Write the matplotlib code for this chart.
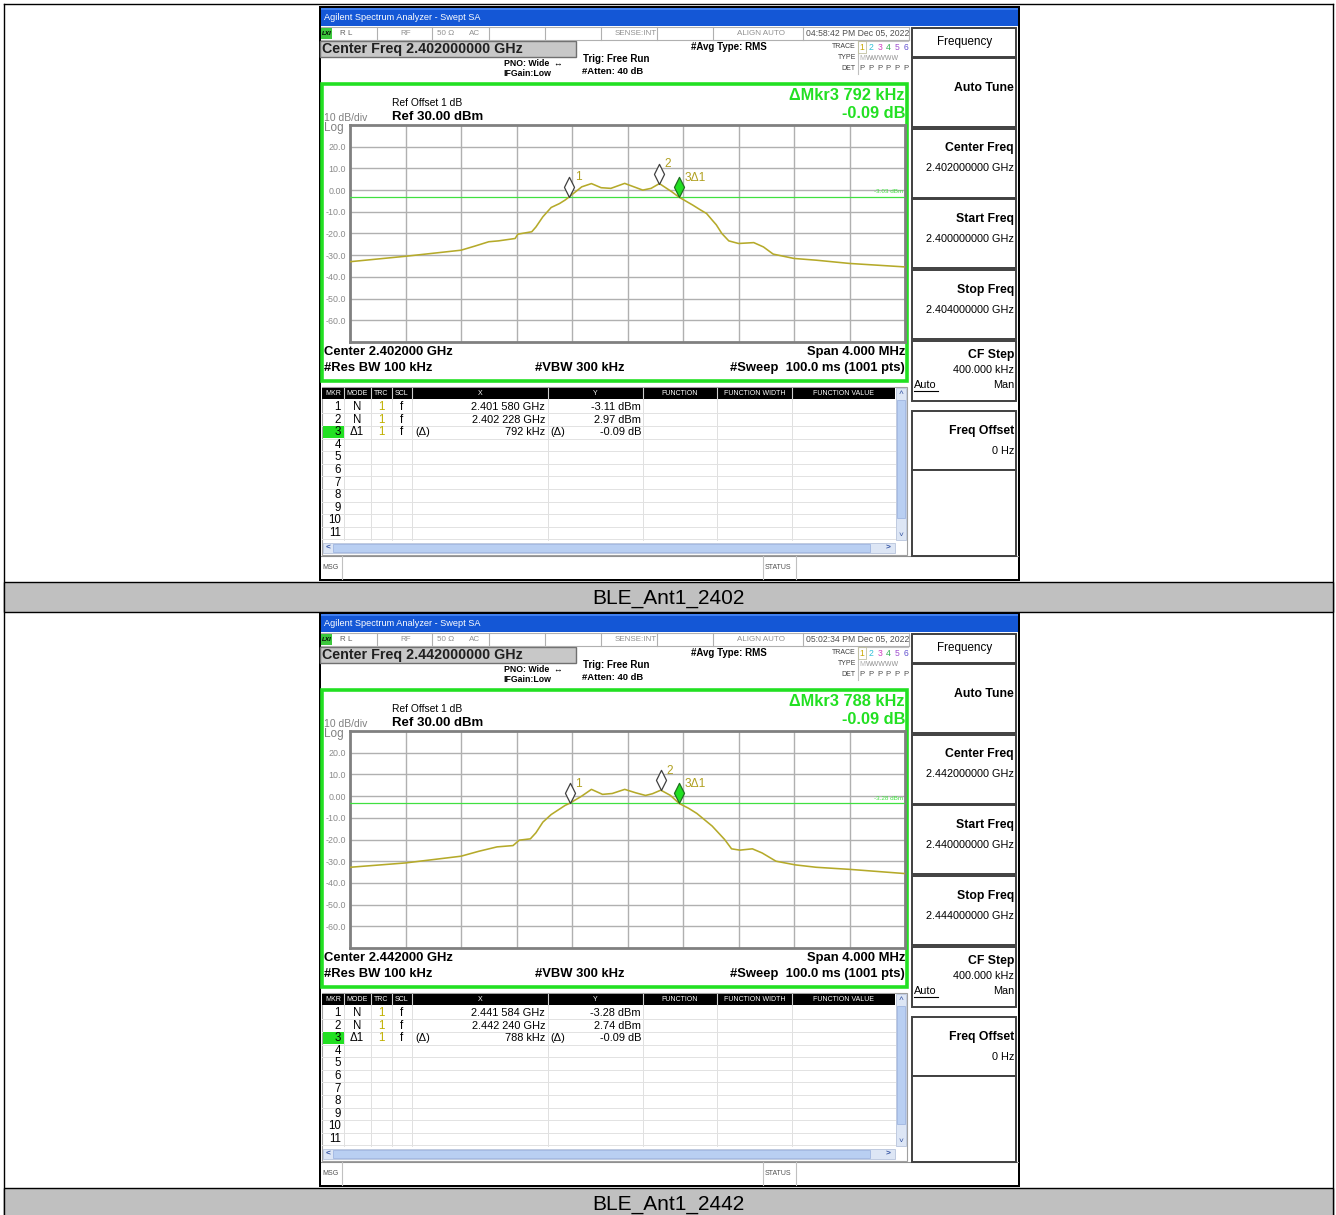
import numpy as np
import matplotlib.pyplot as plt
from matplotlib.patches import Rectangle
from matplotlib.path import Path

plt.rcParams['font.family'] = ['Liberation Sans', 'DejaVu Sans']

W, H = 1336, 1215

# trace readings: offset from start freq (MHz), level (dBm)
off_2402 = [0.00, 0.40, 0.80, 0.90, 1.00, 1.07, 1.19, 1.21, 1.31, 1.34, 1.39, 1.45, 1.51, 1.55, 1.58,
            1.67, 1.74, 1.81, 1.88, 1.98, 2.00, 2.11, 2.17, 2.23, 2.32, 2.37, 2.47, 2.52, 2.57,
            2.61, 2.64, 2.68, 2.73, 2.80, 2.91, 2.98, 3.05, 3.20, 3.36, 3.60, 4.00]
lvl_2402 = [-33.0, -30.5, -27.7, -25.8, -23.8, -23.4, -22.3, -20.3, -19.2, -17.0, -12.3, -8.0, -6.2, -4.6, -3.1,
            1.5, 3.0, 1.1, 0.8, 3.1, 2.6, 0.0, 0.8, 3.0, -0.8, -3.2, -6.9, -8.9, -10.8,
            -13.8, -16.0, -20.0, -23.4, -24.6, -24.2, -26.2, -29.5, -31.5, -32.3, -33.8, -35.4]

off_2442 = [0.00, 0.40, 0.80, 0.93, 1.06, 1.175, 1.22, 1.30, 1.34, 1.39, 1.45, 1.55, 1.584,
            1.67, 1.74, 1.82, 1.89, 1.98, 2.06, 2.13, 2.18, 2.24, 2.31, 2.372, 2.44, 2.50, 2.61,
            2.70, 2.75, 2.81, 2.90, 2.97, 3.07, 3.21, 3.36, 3.61, 4.00]
lvl_2442 = [-32.8, -30.8, -27.7, -25.4, -23.4, -22.8, -20.3, -19.7, -16.9, -12.0, -8.5, -4.3, -3.28,
            0.0, 3.1, 0.8, 1.2, 3.1, 1.5, 0.3, 1.1, 2.74, 0.3, -3.37, -5.6, -8.0, -13.8,
            -20.0, -24.3, -24.9, -24.3, -26.2, -30.0, -31.7, -32.8, -33.8, -35.7]

# marker table values
mkr_x_2402 = ["2.401 580 GHz", "2.402 228 GHz", "792 kHz"]
mkr_y_2402 = ["-3.11 dBm", "2.97 dBm", "-0.09 dB"]
mkr_x_2442 = ["2.441 584 GHz", "2.442 240 GHz", "788 kHz"]
mkr_y_2442 = ["-3.28 dBm", "2.74 dBm", "-0.09 dB"]
# marker positions (MHz from start, dBm)
mkr_off_2402 = [1.580, 2.228, 2.372]
mkr_lvl_2402 = [-3.11, 2.97, -3.20]
mkr_off_2442 = [1.584, 2.240, 2.372]
mkr_lvl_2442 = [-3.28, 2.74, -3.37]

y_ticks = [20, 10, 0, -10, -20, -30, -40, -50, -60]
y_tick_labels = ["20.0", "10.0", "0.00", "-10.0", "-20.0", "-30.0", "-40.0", "-50.0", "-60.0"]

TRACE_C = '#b5aa2a'
GREEN = '#22e022'

fig = plt.figure(figsize=(W / 100, H / 100), dpi=100)
bg = fig.add_axes([0, 0, 1, 1])
bg.set_xlim(0, W)
bg.set_ylim(H, 0)
bg.axis('off')


def rect(x0, y0, x1, y1, fc='none', ec='none', lw=1.0, z=1):
    bg.add_patch(Rectangle((x0, y0), x1 - x0, y1 - y0, facecolor=fc, edgecolor=ec, linewidth=lw, zorder=z))


def txt(x, y, s, size=7, color='black', weight='normal', ha='left', va='center', z=5, **kw):
    bg.text(x, y, s, fontsize=size, color=color, fontweight=weight, ha=ha, va=va, zorder=z, **kw)


def hline(y, x0, x1, color='#c8c8c8', lw=0.8, z=3):
    bg.plot([x0, x1], [y, y], color=color, lw=lw, zorder=z)


def vline(x, y0, y1, color='#c8c8c8', lw=0.8, z=3):
    bg.plot([x, x], [y0, y1], color=color, lw=lw, zorder=z)


def fig_rect(x0, y0, x1, y1):
    return [x0 / W, 1 - y1 / H, (x1 - x0) / W, (y1 - y0) / H]


diamond = Path([(0, 0), (0.5, 1.0), (0, 2.0), (-0.5, 1.0), (0, 0)],
               [Path.MOVETO, Path.LINETO, Path.LINETO, Path.LINETO, Path.CLOSEPOLY])


def draw_panel(y0, cf, start, stop, stamp, mkx, mky, moff, mlvl, dline, off, lvl, caption):
    Y = lambda v: v + y0
    # screenshot frame
    rect(319, Y(6), 1020, Y(581), fc='black', z=1)
    rect(321, Y(8), 1018, Y(579), fc='white', z=1)
    rect(321, Y(8), 1018, Y(26), fc='#1457d6', z=2)
    rect(321, Y(8), 1018, Y(10), fc='#3f7ff0', z=2)
    txt(324, Y(17.5), "Agilent Spectrum Analyzer - Swept SA", size=6.6, color='white')

    # status row
    hline(Y(27), 321, 909, color='#b0b0b0')
    hline(Y(40), 321, 909, color='#b0b0b0')
    rect(321, Y(28), 332, Y(39), fc='#3cc83c', z=3)
    txt(326.5, Y(33.5), "LXI", size=4.5, weight='bold', style='italic', ha='center')
    txt(340, Y(33.5), "R L", size=5.8, color='#606060')
    txt(400, Y(33.5), "RF", size=5.8, color='#909090')
    txt(437, Y(33.5), "50 \u03a9", size=5.8, color='#909090')
    txt(469, Y(33.5), "AC", size=5.8, color='#909090')
    txt(615, Y(33.5), "SENSE:INT", size=5.8, color='#909090')
    txt(737, Y(33.5), "ALIGN AUTO", size=5.8, color='#909090')
    txt(806, Y(33.5), stamp, size=6.2, color='#505050')
    for xv in [377, 432, 489, 545, 601, 657, 713, 803, 909]:
        vline(xv, Y(27), Y(40), color='#b0b0b0')

    # settings text
    rect(320, Y(41), 576, Y(57), fc='#c8c8c8', ec='#707070', lw=1.0, z=2)
    txt(322, Y(49.5), "Center Freq %s GHz" % cf, size=10.3, weight='bold', color='#202020')
    txt(504, Y(63), "PNO: Wide  \u2194", size=6.3, weight='bold')
    txt(503, Y(74), "IFGain:Low", size=6.3, weight='bold')
    txt(583, Y(59), "Trig: Free Run", size=7.0, weight='bold')
    txt(582, Y(72), "#Atten: 40 dB", size=6.8, weight='bold')
    txt(691, Y(46.5), "#Avg Type: RMS", size=7.0, weight='bold')
    txt(856, Y(46), "TRACE", size=5.0, ha='right', color='#404040')
    txt(856, Y(57.5), "TYPE", size=5.0, ha='right', color='#404040')
    txt(856, Y(69), "DET", size=5.0, ha='right', color='#404040')
    vline(858, Y(41), Y(74), color='#c0c0c0')
    hline(Y(41), 858, 908, color='#c0c0c0')
    trc_cols = ['#c8a800', '#30c0d8', '#d040c0', '#30b050', '#a050d0', '#6050d0']
    for i, c in enumerate(trc_cols):
        txt(862 + i * 8.8, Y(47), str(i + 1), size=6.2, color=c, ha='center')
        txt(862 + i * 8.8, Y(69), "P", size=5.6, color='#505050', ha='center')
    rect(858, Y(41), 866, Y(53), ec='#c0c0a0', lw=0.6, z=3)
    txt(859, Y(58), "M", size=5.0, color='#b0b0b0')
    txt(866, Y(58), "WWWWW", size=5.0, color='#909090')

    # green display frame
    rect(322, Y(84), 907, Y(381), ec=GREEN, lw=2.6, z=4)
    txt(905, Y(96), "\u0394Mkr3 %s" % mkx[2], size=11.8, weight='bold', color=GREEN, ha='right')
    txt(905, Y(113), mky[2], size=11.8, weight='bold', color=GREEN, ha='right')
    txt(392, Y(103), "Ref Offset 1 dB", size=7.4)
    txt(392, Y(117), "Ref 30.00 dBm", size=9.5, weight='bold')
    txt(324, Y(118), "10 dB/div", size=7.5, color='#808080')
    txt(324, Y(128), "Log", size=8.5, color='#808080')
    txt(324, Y(352), "Center %s GHz" % cf[:8], size=9.4, weight='bold')
    txt(905, Y(352), "Span 4.000 MHz", size=9.4, weight='bold', ha='right')
    txt(324, Y(368), "#Res BW 100 kHz", size=9.4, weight='bold')
    txt(535, Y(368), "#VBW 300 kHz", size=9.4, weight='bold')
    txt(905, Y(368), "#Sweep  100.0 ms (1001 pts)", size=9.4, weight='bold', ha='right')

    # spectrum plot
    ax = fig.add_axes(fig_rect(350, Y(125), 905, Y(342)))
    ax.set_xlim(0, 4)
    ax.set_ylim(-70, 30)
    ax.set_xticks(np.arange(0, 4.01, 0.4))
    ax.set_xticklabels([])
    ax.set_yticks(y_ticks)
    ax.set_yticklabels(y_tick_labels)
    ax.tick_params(length=0, labelsize=6.4, labelcolor='#8a8a8a', pad=3)
    ax.grid(True, color='#b0b0b0', lw=1.0)
    for s in ax.spines.values():
        s.set_color('#808080')
        s.set_linewidth(2.0)
    ax.axhline(dline, color='#40e040', lw=0.9, zorder=3)
    ax.text(3.99, dline + 1.2, "%.2f dBm" % dline, fontsize=4.6, color='#40e040', ha='right', va='bottom')
    ax.plot(off, lvl, color=TRACE_C, lw=1.15, zorder=4)
    for i in range(3):
        fc = GREEN if i == 2 else 'white'
        ec = '#207020' if i == 2 else '#404040'
        ax.plot(moff[i], mlvl[i], marker=diamond, markersize=29, markerfacecolor=fc,
                markeredgecolor=ec, markeredgewidth=0.9, zorder=6, clip_on=False)
        lab = ["1", "2", "3\u03941"][i]
        ax.annotate(lab, (moff[i], mlvl[i]), xytext=(4, 14), textcoords='offset points',
                    fontsize=8.6, color='#b0a020', ha='left', va='center', zorder=7)

    # marker table
    rect(322, Y(387), 907, Y(555), fc='white', ec='#a0a0a0', lw=0.8, z=2)
    rect(322, Y(388), 895, Y(399), fc='black', z=3)
    cols = [322, 344, 371, 392, 412, 548, 643, 717, 792, 895]
    heads = ["MKR", "MODE", "TRC", "SCL", "X", "Y", "FUNCTION", "FUNCTION WIDTH", "FUNCTION VALUE"]
    for i, h in enumerate(heads):
        txt((cols[i] + cols[i + 1]) / 2, Y(393.5), h, size=5.0, color='white', ha='center', z=4)
        if i > 0:
            vline(cols[i], Y(388), Y(399), color='#d0d0d0', lw=0.8, z=4)
            vline(cols[i], Y(399), Y(540), color='#e0e0e0', lw=0.7)
    row_h = 12.6
    for r in range(11):
        yc = Y(407 + r * row_h)
        hline(yc + row_h / 2, 322, 895, color='#e2e2e2', lw=0.7)
        if r == 2:
            rect(323, yc - 6, 344, yc + 6, fc=GREEN, z=3)
        txt(341, yc, str(r + 1), size=8.3, ha='right', z=4)
    for r in range(3):
        yc = Y(407 + r * row_h)
        txt(357, yc, ["N", "N", "\u03941"][r], size=8.3, ha='center')
        txt(381, yc, "1", size=8.3, ha='center', color='#c0b000')
        txt(401, yc, "f", size=8.3, ha='center')
        txt(545, yc, mkx[r], size=7.9, ha='right')
        txt(641, yc, mky[r], size=7.9, ha='right')
        if r == 2:
            txt(415, yc, "(\u0394)", size=7.9)
            txt(550, yc, "(\u0394)", size=7.9)
    # scroll bars
    rect(896, Y(388), 906, Y(540), fc='#dde6f5', ec='#b8c4dc', lw=0.6, z=3)
    rect(897, Y(400), 905, Y(518), fc='#b9cff2', ec='#9fb6e0', lw=0.6, z=3)
    txt(901, Y(393), "\u02c4", size=6, ha='center', color='#3050a0')
    txt(901, Y(536), "\u02c5", size=6, ha='center', color='#3050a0')
    rect(323, Y(543), 895, Y(553), fc='#dde6f5', ec='#b8c4dc', lw=0.6, z=3)
    rect(333, Y(544), 870, Y(552), fc='#b9cff2', ec='#9fb6e0', lw=0.6, z=3)
    txt(328, Y(548), "<", size=6, ha='center', color='#3050a0', weight='bold')
    txt(888, Y(548), ">", size=6, ha='center', color='#3050a0', weight='bold')
    # msg bar
    hline(Y(556), 321, 1018, color='#909090', lw=0.8)
    vline(342, Y(556), Y(579), color='#c0c0c0')
    vline(763, Y(556), Y(579), color='#c0c0c0')
    vline(796, Y(556), Y(579), color='#c0c0c0')
    txt(322, Y(567.5), "MSG", size=5.0, color='#505050')
    txt(765, Y(567.5), "STATUS", size=5.0, color='#505050')

    # softkeys
    keys = [(28, 57), (58, 127), (129, 198), (199, 268), (270, 339), (341, 401), (411, 470), (470, 556)]
    for k0, k1 in keys:
        rect(912, Y(k0), 1016, Y(k1), fc='white', ec='#404040', lw=1.4, z=3)
    txt(965, Y(42), "Frequency", size=8.4, ha='center')
    txt(1014, Y(88), "Auto Tune", size=8.8, weight='bold', ha='right')
    for (title, val, ty) in [("Center Freq", cf, 148), ("Start Freq", start, 219), ("Stop Freq", stop, 290)]:
        txt(1014, Y(ty), title, size=8.8, weight='bold', ha='right')
        txt(1014, Y(ty + 20), val + " GHz", size=7.8, ha='right')
    txt(1014, Y(355), "CF Step", size=8.8, weight='bold', ha='right')
    txt(1014, Y(370), "400.000 kHz", size=7.8, ha='right')
    txt(914, Y(385), "Auto", size=7.8)
    hline(Y(391), 914, 938, color='black', lw=0.8, z=5)
    txt(1014, Y(385), "Man", size=7.8, ha='right')
    txt(1014, Y(431), "Freq Offset", size=8.8, weight='bold', ha='right')
    txt(1014, Y(451), "0 Hz", size=7.8, ha='right')

    # caption row
    rect(4, Y(582), 1333, Y(612), fc='#c0c0c0', ec='black', lw=1.0, z=1)
    txt(668, Y(598), caption, size=15, ha='center')


# outer table border
vline(4, 4, 1215, color='black', lw=1.0, z=1)
vline(1333, 4, 1215, color='black', lw=1.0, z=1)
hline(4, 4, 1333, color='black', lw=1.0, z=1)

draw_panel(0, "2.402000000", "2.400000000", "2.404000000", "04:58:42 PM Dec 05, 2022",
           mkr_x_2402, mkr_y_2402, mkr_off_2402, mkr_lvl_2402, -3.03, off_2402, lvl_2402,
           "BLE_Ant1_2402")
draw_panel(606, "2.442000000", "2.440000000", "2.444000000", "05:02:34 PM Dec 05, 2022",
           mkr_x_2442, mkr_y_2442, mkr_off_2442, mkr_lvl_2442, -3.28, off_2442, lvl_2442,
           "BLE_Ant1_2442")

fig.savefig("out.png", dpi=100)
